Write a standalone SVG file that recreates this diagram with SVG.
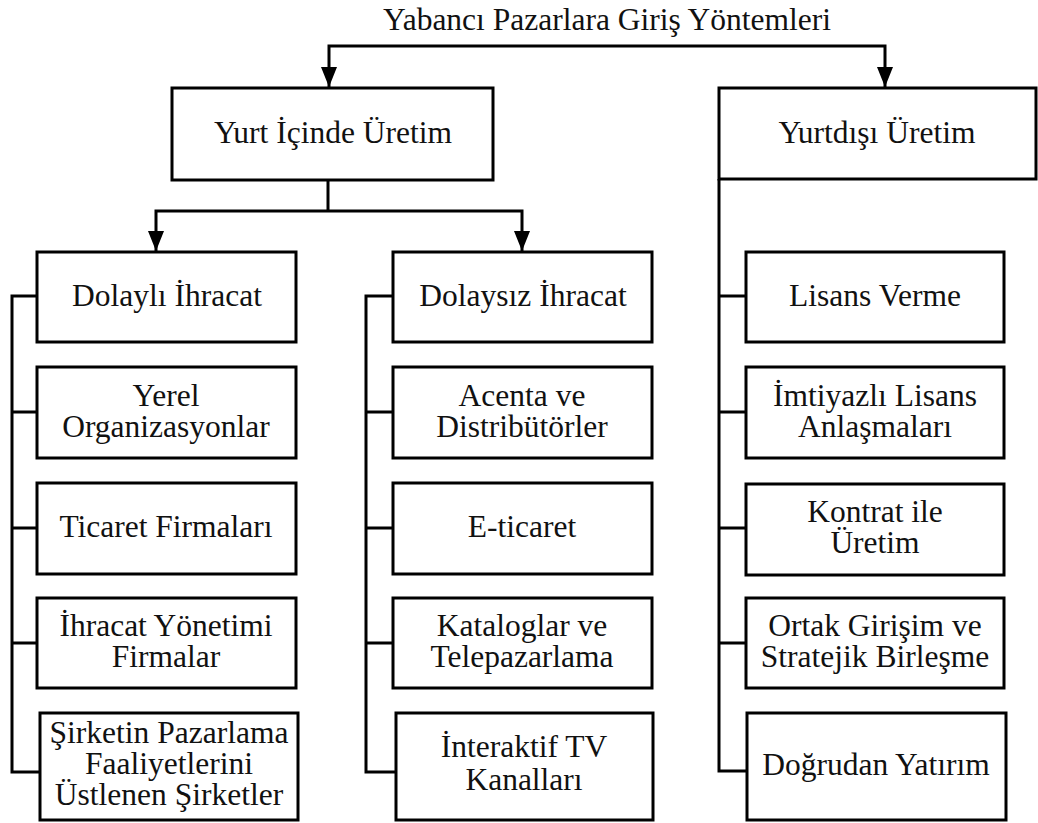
<svg xmlns="http://www.w3.org/2000/svg" width="1038" height="823" viewBox="0 0 1038 823">
<style>
  .box { fill: #ffffff; stroke: #000000; stroke-width: 3; }
  .lbl { font-family: "Liberation Serif", "Times New Roman", serif; font-size: 31.5px; fill: #111111; text-anchor: middle; }
  .con { fill: none; stroke: #000000; stroke-width: 3; }
</style>
<defs>
  <marker id="arr" viewBox="0 0 20 16" refX="20" refY="8" markerWidth="20" markerHeight="16" markerUnits="userSpaceOnUse" orient="auto-start-reverse">
    <path d="M0,0 L20,8 L0,16 z" fill="#000000"/>
  </marker>
</defs>
<rect width="1038" height="823" fill="#ffffff"/>

<g id="title">
  <text class="lbl" x="607" y="30">Yabancı Pazarlara Giriş Yöntemleri</text>
</g>

<g id="connectors">
  <path class="con" d="M329,87 V46 H885 V87" marker-start="url(#arr)" marker-end="url(#arr)"/>
  <path class="con" d="M328,180 V211"/>
  <path class="con" d="M156,251 V211 H522 V251" marker-start="url(#arr)" marker-end="url(#arr)"/>
  <path class="con" d="M37,296 H12 V772 H40"/>
  <path class="con" d="M12,412 H37 M12,528 H37 M12,643 H37"/>
  <path class="con" d="M393,296 H366 V772 H396"/>
  <path class="con" d="M366,412 H393 M366,528 H393 M366,643 H393"/>
  <path class="con" d="M719,179 V771 H747"/>
  <path class="con" d="M719,296 H746 M719,412 H746 M719,528 H746 M719,643 H746"/>
</g>

<g id="yurt-icinde">
  <rect class="box" x="172" y="88" width="321" height="92"/>
  <text class="lbl" x="333" y="143">Yurt İçinde Üretim</text>
</g>
<g id="yurtdisi">
  <rect class="box" x="719" y="88" width="317" height="91"/>
  <text class="lbl" x="877" y="143">Yurtdışı Üretim</text>
</g>

<g id="dolayli">
  <rect class="box" x="37" y="252" width="259" height="90"/>
  <text class="lbl" x="167" y="306">Dolaylı İhracat</text>
</g>
<g id="dolaysiz">
  <rect class="box" x="393" y="252" width="259" height="90"/>
  <text class="lbl" x="523" y="306">Dolaysız İhracat</text>
</g>
<g id="lisans">
  <rect class="box" x="746" y="252" width="258" height="90"/>
  <text class="lbl" x="875" y="306">Lisans Verme</text>
</g>

<g id="yerel">
  <rect class="box" x="37" y="367" width="259" height="91"/>
  <text class="lbl" x="166" y="405.5">Yerel</text>
  <text class="lbl" x="166" y="436.5">Organizasyonlar</text>
</g>
<g id="acenta">
  <rect class="box" x="393" y="367" width="259" height="91"/>
  <text class="lbl" x="522" y="405.5">Acenta ve</text>
  <text class="lbl" x="522" y="436.5">Distribütörler</text>
</g>
<g id="imtiyazli">
  <rect class="box" x="746" y="367" width="258" height="91"/>
  <text class="lbl" x="875" y="405.5">İmtiyazlı Lisans</text>
  <text class="lbl" x="875" y="436.5">Anlaşmaları</text>
</g>

<g id="ticaret">
  <rect class="box" x="37" y="483" width="259" height="91"/>
  <text class="lbl" x="166" y="537">Ticaret Firmaları</text>
</g>
<g id="eticaret">
  <rect class="box" x="393" y="483" width="259" height="91"/>
  <text class="lbl" x="522" y="537">E-ticaret</text>
</g>
<g id="kontrat">
  <rect class="box" x="746" y="484" width="258" height="91"/>
  <text class="lbl" x="875" y="522">Kontrat ile</text>
  <text class="lbl" x="875" y="553">Üretim</text>
</g>

<g id="ihracat-yonetimi">
  <rect class="box" x="37" y="598" width="259" height="90"/>
  <text class="lbl" x="166" y="636">İhracat Yönetimi</text>
  <text class="lbl" x="166" y="667">Firmalar</text>
</g>
<g id="kataloglar">
  <rect class="box" x="393" y="598" width="259" height="90"/>
  <text class="lbl" x="522" y="636">Kataloglar ve</text>
  <text class="lbl" x="522" y="667">Telepazarlama</text>
</g>
<g id="ortak">
  <rect class="box" x="746" y="598" width="258" height="90"/>
  <text class="lbl" x="875" y="636">Ortak Girişim ve</text>
  <text class="lbl" x="875" y="667">Stratejik Birleşme</text>
</g>

<g id="sirketin">
  <rect class="box" x="40" y="713" width="258" height="107"/>
  <text class="lbl" x="169" y="743">Şirketin Pazarlama</text>
  <text class="lbl" x="169" y="774">Faaliyetlerini</text>
  <text class="lbl" x="169" y="805">Üstlenen Şirketler</text>
</g>
<g id="interaktif">
  <rect class="box" x="396" y="713" width="257" height="107"/>
  <text class="lbl" x="524" y="757">İnteraktif TV</text>
  <text class="lbl" x="524" y="790">Kanalları</text>
</g>
<g id="dogrudan">
  <rect class="box" x="747" y="713" width="259" height="107"/>
  <text class="lbl" x="876" y="775">Doğrudan Yatırım</text>
</g>
</svg>
